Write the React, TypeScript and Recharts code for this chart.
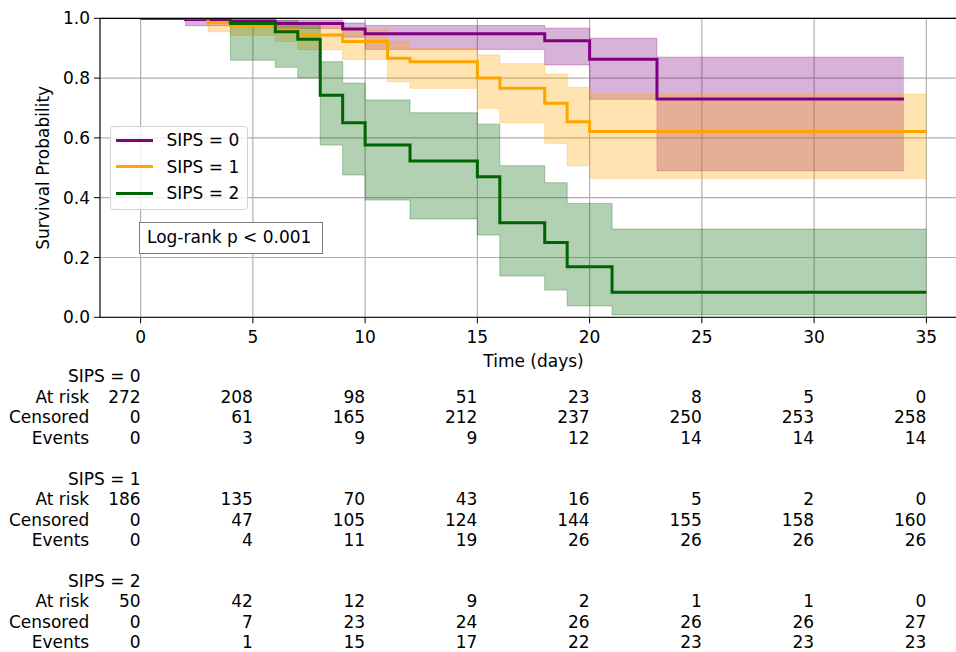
import React from 'react';
import { ComposedChart, Line, Area, XAxis, YAxis, CartesianGrid, Legend, ReferenceLine } from 'recharts';

const xTicks = [0, 5, 10, 15, 20, 25, 30, 35];
const yTicks = [0, 0.2, 0.4, 0.6, 0.8, 1.0];

const groupNames = ['SIPS = 0', 'SIPS = 1', 'SIPS = 2'];
const groupColors = ['#800080', '#FFA500', '#006400'];

// SIPS = 0
const s0Times = [0, 2, 4, 6, 9, 10, 18, 20, 23, 34];
const s0Surv = [1, 0.996, 0.989, 0.983, 0.964, 0.948, 0.925, 0.863, 0.73, 0.73];
const s0Lower = [1, 0.975, 0.972, 0.966, 0.937, 0.896, 0.844, 0.729, 0.49, 0.49];
const s0Upper = [1, 0.999, 0.998, 0.994, 0.984, 0.976, 0.967, 0.933, 0.87, 0.87];

// SIPS = 1
const s1Times = [0, 3, 4, 6, 7, 9, 11, 12, 15, 16, 18, 19, 20, 35];
const s1Surv = [1, 0.986, 0.976, 0.961, 0.944, 0.922, 0.866, 0.855, 0.8, 0.766, 0.716, 0.654, 0.621, 0.621];
const s1Lower = [1, 0.955, 0.943, 0.922, 0.895, 0.862, 0.788, 0.766, 0.699, 0.651, 0.582, 0.507, 0.465, 0.465];
const s1Upper = [1, 0.997, 0.993, 0.986, 0.976, 0.96, 0.922, 0.9, 0.877, 0.848, 0.814, 0.769, 0.746, 0.746];

// SIPS = 2
const s2Times = [0, 4, 6, 7, 8, 9, 10, 12, 15, 16, 18, 19, 21, 35];
const s2Surv = [1, 0.983, 0.955, 0.93, 0.743, 0.651, 0.576, 0.523, 0.47, 0.316, 0.25, 0.169, 0.084, 0.084];
const s2Lower = [1, 0.86, 0.836, 0.801, 0.576, 0.476, 0.392, 0.329, 0.275, 0.138, 0.091, 0.038, 0.008, 0.008];
const s2Upper = [1, 0.998, 0.992, 0.981, 0.855, 0.783, 0.727, 0.684, 0.646, 0.507, 0.45, 0.381, 0.295, 0.295];

// Risk table
const tableRowLabels = ['At risk', 'Censored', 'Events'];
const s0AtRisk = [272, 208, 98, 51, 23, 8, 5, 0];
const s0Censored = [0, 61, 165, 212, 237, 250, 253, 258];
const s0Events = [0, 3, 9, 9, 12, 14, 14, 14];
const s1AtRisk = [186, 135, 70, 43, 16, 5, 2, 0];
const s1Censored = [0, 47, 105, 124, 144, 155, 158, 160];
const s1Events = [0, 4, 11, 19, 26, 26, 26, 26];
const s2AtRisk = [50, 42, 12, 9, 2, 1, 1, 0];
const s2Censored = [0, 7, 23, 24, 26, 26, 26, 27];
const s2Events = [0, 1, 15, 17, 22, 23, 23, 23];

const tableGroups = [
  [s0AtRisk, s0Censored, s0Events],
  [s1AtRisk, s1Censored, s1Events],
  [s2AtRisk, s2Censored, s2Events],
];

const build = (t: number[], s: number[], lo: number[], hi: number[]) =>
  t.map((tt, i) => ({ t: tt, s: s[i], band: [lo[i], hi[i]] }));

const data0 = build(s0Times, s0Surv, s0Lower, s0Upper);
const data1 = build(s1Times, s1Surv, s1Lower, s1Upper);
const data2 = build(s2Times, s2Surv, s2Lower, s2Upper);
const allData = [data0, data1, data2];

const FONT = '"DejaVu Sans", Verdana, sans-serif';
const FS = 17;

const TableTick = (props: any) => {
  const { x, y, payload, index } = props;
  const baseY0 = 382.3;
  const groupStep = 102.2;
  const rowStep = 20.5;
  const items: React.ReactNode[] = [];
  items.push(
    <text key="tick" x={x} y={y} dy="0.71em" textAnchor="middle" fontSize={FS} fill="#000" fontFamily={FONT}>
      {payload.value}
    </text>
  );
  tableGroups.forEach((rows, g) => {
    const gy = baseY0 + g * groupStep;
    if (index === 0) {
      items.push(
        <text key={`h${g}`} x={x} y={gy} textAnchor="end" fontSize={FS} fill="#000" fontFamily={FONT}>
          {groupNames[g]}
        </text>
      );
      tableRowLabels.forEach((lab, r) => {
        items.push(
          <text key={`l${g}-${r}`} x={x - 51.4} y={gy + (r + 1) * rowStep} textAnchor="end" fontSize={FS} fill="#000" fontFamily={FONT}>
            {lab}
          </text>
        );
      });
    }
    rows.forEach((row, r) => {
      items.push(
        <text key={`v${g}-${r}`} x={x} y={gy + (r + 1) * rowStep} textAnchor="end" fontSize={FS} fill="#000" fontFamily={FONT}>
          {row[index]}
        </text>
      );
    });
  });
  return <g>{items}</g>;
};

const YLabel = () => (
  <text x={49.5} y={167.8} transform="rotate(-90 49.5 167.8)" textAnchor="middle" fontSize={FS} fill="#000" fontFamily={FONT}>
    Survival Probability
  </text>
);

const LegendContent = () => (
  <div style={{ position: 'relative', width: 138, height: 84, fontFamily: FONT, fontSize: FS, color: '#000' }}>
    <div
      style={{
        position: 'absolute', left: 0, top: 0, width: 138, height: 84, boxSizing: 'border-box',
        border: '1px solid #d3d3d3', borderRadius: 4, background: 'rgba(255,255,255,0.8)',
      }}
    />
    {groupNames.map((n, i) => (
      <React.Fragment key={n}>
        <div style={{ position: 'absolute', left: 6, top: 14 + i * 26.5 - 1.5, width: 37, height: 3, background: groupColors[i] }} />
        <div style={{ position: 'absolute', left: 56.5, top: 14 + i * 26.5 - 11, lineHeight: '22px', whiteSpace: 'nowrap' }}>{n}</div>
      </React.Fragment>
    ))}
    <div
      style={{
        position: 'absolute', left: 29, top: 95.7, width: 184, height: 32, boxSizing: 'border-box',
        border: '1.5px solid #7a7a7a', background: '#fff', paddingLeft: 7, lineHeight: '29px', whiteSpace: 'nowrap',
      }}
    >
      Log-rank p &lt; 0.001
    </div>
  </div>
);

export default function App() {
  return (
    <div style={{ position: 'absolute', left: 0, top: 0, width: 956, height: 652, overflow: 'hidden', background: '#fff' }}>
      <ComposedChart width={967} height={652} margin={{ top: 18.3, right: 0, bottom: 0, left: 0 }} style={{ fontFamily: FONT }}>
        <CartesianGrid stroke="#b0b0b0" strokeWidth={1.2} />
        <XAxis
          dataKey="t"
          type="number"
          domain={[-1.81, 36.81]}
          ticks={xTicks}
          interval={0}
          allowDataOverflow
          height={334.7}
          tickSize={6}
          tickMargin={8}
          stroke="#000"
          tick={<TableTick />}
          label={{ value: 'Time (days)', position: 'insideBottom', offset: 284.7, fontSize: FS, fill: '#000', fontFamily: FONT }}
        />
        <YAxis
          type="number"
          domain={[0, 1]}
          ticks={yTicks}
          interval={0}
          allowDataOverflow
          width={100}
          tickSize={6}
          tickMargin={4}
          stroke="#000"
          tick={{ fontSize: FS, fill: '#000', fontFamily: FONT }}
          tickFormatter={(v: number) => v.toFixed(1)}
          label={<YLabel />}
        />
        {allData.map((d, i) => (
          <Area
            key={`band${i}`}
            data={d}
            dataKey="band"
            type="stepAfter"
            fill={groupColors[i]}
            fillOpacity={0.3}
            stroke={groupColors[i]}
            strokeOpacity={0.3}
            strokeWidth={1}
            legendType="none"
            isAnimationActive={false}
            dot={false}
            activeDot={false}
          />
        ))}
        {allData.map((d, i) => (
          <Line
            key={`line${i}`}
            data={d}
            dataKey="s"
            name={groupNames[i]}
            type="stepAfter"
            stroke={groupColors[i]}
            strokeWidth={3}
            dot={false}
            activeDot={false}
            isAnimationActive={false}
          />
        ))}
        <ReferenceLine y={1} stroke="#000" strokeWidth={1.2} />
        <Legend
          layout="vertical"
          align="center"
          verticalAlign="middle"
          content={<LegendContent />}
          wrapperStyle={{ position: 'absolute', left: 110, top: 126, width: 138, height: 84, margin: 0, padding: 0 }}
        />
      </ComposedChart>
    </div>
  );
}
